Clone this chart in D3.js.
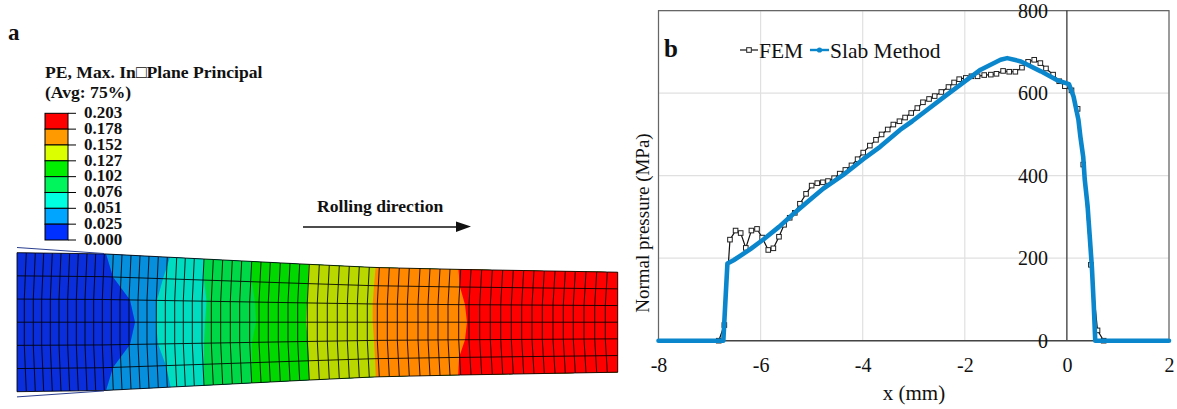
<!DOCTYPE html>
<html>
<head>
<meta charset="utf-8">
<script src="https://cdn.jsdelivr.net/npm/d3@7"></script>
<style>
  body { margin: 0; background: #fff; }
  svg { display: block; }
  text { font-family: "Liberation Serif", serif; fill: #111; }
</style>
</head>
<body>
<svg width="1177" height="409"></svg>
<script>
// panel a: contour legend
var legendLabels = ["0.203","0.178","0.152","0.127","0.102","0.076","0.051","0.025","0.000"];
var legendColors = ["#ff0000","#ff9a00","#dcff00","#00f000","#00f55c","#00ffe0","#00a5ff","#0030ff"];

// panel a: mesh, in model units (axial position, half thickness)
var meshColumns = [0,0.93,1.83,2.67,3.53,4.4,5.27,6.13,7,7.87,8.73,9.63,10.5,11.4,12.3,13.2,14.13,15.03,15.97,16.83,17.73,18.7,19.63,20.57,21.53,22.47,23.47,24.4,25.33,26.33,27.3,28.27,29.23,30.23,31.23,32.23,33.23,34.23,35.23,36.23,37.23,38.23,39.23,40.3,41.3,42.3,43.3,44.37,45.4,46.47,47.53,48.57,49.63,50.67,51.7,52.73,53.8,54.83,55.83,56.9,57.97,59.03,60.07];
var thicknessNodes = [1,0.667,0.333,0,-0.333,-0.667,-1];
var columnBow = [0,-0.1,-0.2,-0.2,-0.2,-0.1,0];
var profileStations = [0,8.7,28.3,35.8,44.2,60.1];
var profileHalf = [6.95,6.83,5.83,5.47,5.28,5.0];
var rollStations = [0,8.7];
var rollHalf = [7.47,6.87];

// contour band colours on the strip and the edge of each band, per through-thickness node
var bandColors = ["#0a2edc","#058fdc","#00dcc0","#00d848","#00d800","#b8d800","#ff8800","#ff0000"];
var bandEdges = [
  [8.7,9.6,11.3,11.8,11.3,9.6,8.7],
  [15.5,14.6,14.0,13.9,14.1,14.9,15.5],
  [18.7,18.7,18.95,18.8,18.7,18.7,18.7],
  [23.5,23.5,23.8,23.9,23.5,23.5,23.5],
  [29.2,29.1,29.0,28.9,29.1,29.2,29.2],
  [35.9,35.7,35.57,35.57,35.7,35.8,35.9],
  [44.1,44.3,44.8,45.0,44.8,44.2,44.1]
];

// panel b: normal pressure
var femX = [-6.82,-6.71,-6.6,-6.49,-6.39,-6.29,-6.18,-6.07,-5.97,-5.85,-5.75,-5.64,-5.54,-5.43,-5.33,-5.23,-5.11,-5,-4.89,-4.78,-4.68,-4.56,-4.45,-4.34,-4.22,-4.1,-3.99,-3.86,-3.74,-3.63,-3.51,-3.4,-3.28,-3.17,-3.05,-2.93,-2.82,-2.7,-2.59,-2.46,-2.32,-2.21,-2.11,-1.98,-1.87,-1.75,-1.62,-1.49,-1.38,-1.25,-1.13,-1.01,-0.88,-0.76,-0.64,-0.52,-0.41,-0.27,-0.15,-0.04,0.09,0.21,0.32,0.47,0.6,0.72];
var femP = [0,38,245,267,261,225,267,271,250,220,224,252,281,298,310,332,356,376,382,384,387,394,405,414,425,440,456,473,487,500,512,524,532,541,552,564,578,586,593,603,615,626,634,637,641,641,644,645,647,654,652,652,662,676,681,673,660,645,629,617,607,562,427,184,25,0];
var slabX = [-8,-7.7,-7.4,-7.1,-6.9,-6.73,-6.68,-6.65,-6.53,-6.2,-5.94,-5.64,-5.36,-5.05,-4.77,-4.38,-3.99,-3.66,-3.27,-3.03,-2.34,-1.69,-1.3,-1.17,-0.9,-0.51,-0.18,0.04,0.13,0.225,0.265,0.32,0.35,0.405,0.445,0.49,0.525,0.555,0.7,0.9,1.1,1.3,1.5,1.7,2];
var slabP = [0,0,0,0,0,0,118,187,195,222,246,276,307,340,369,402,440,470,511,532,597,657,681,685,677,653,631,622,592,536,494,445,390,327,257,177,90,0,0,0,0,0,0,0,0];
var xTicks = [-8,-6,-4,-2,0,2];
var yTicks = [0,200,400,600,800];

var svg = d3.select("svg");

// ---- panel a ----
var panelA = svg.append("g");
var xMesh = d3.scaleLinear().domain([0,60.1]).range([17,618]);
var yMesh = d3.scaleLinear().domain([-7,7]).range([392.2,252.2]);
var halfAt = d3.scaleLinear().domain(profileStations).range(profileHalf);

var meshLine = d3.line()
  .x(function(d){return xMesh(d[0]);})
  .y(function(d){return yMesh(d[1]);});

var outline = meshColumns.map(function(c){return [c,halfAt(c)];})
  .concat(meshColumns.slice().reverse().map(function(c){return [c,-halfAt(c)];}));

svg.append("clipPath").attr("id","stripClip").append("path")
  .attr("d",meshLine(outline)+"Z");

var edgePoints = function(edge, reverse){
  var pts = edge.map(function(x,i){
    // overshoot the outer nodes, the clip trims them back to the outline
    var t = thicknessNodes[i]*(Math.abs(thicknessNodes[i])===1 ? 1.1 : 1);
    return [x,t*halfAt(x)];
  });
  return reverse ? pts.reverse() : pts;
};
var stripStart = thicknessNodes.map(function(){return 0;});
var stripEnd = thicknessNodes.map(function(){return 60.1;});
var allEdges = [stripStart].concat(bandEdges);

// each band runs on to the strip end and the next one paints over it, so no seams
panelA.append("g").attr("clip-path","url(#stripClip)")
  .selectAll("path").data(bandColors).enter().append("path")
  .attr("d",function(d,i){
    return meshLine(edgePoints(allEdges[i],false).concat(edgePoints(stripEnd,true)))+"Z";
  })
  .attr("fill",function(d){return d;});

// mesh, the free ends of the strip stay straight
var bowAt = function(k,n){
  return (k===0 || k===meshColumns.length-1) ? 0 : columnBow[n];
};
var rows = thicknessNodes.map(function(t,n){
  return meshColumns.map(function(c,k){return [c+bowAt(k,n),t*halfAt(c)];});
});
var cols = meshColumns.map(function(c,k){
  return thicknessNodes.map(function(t,n){return [c+bowAt(k,n),t*halfAt(c)];});
});
panelA.append("g").selectAll("path").data(rows.concat(cols)).enter().append("path")
  .attr("d",meshLine)
  .attr("fill","none")
  .attr("stroke","#000")
  .attr("stroke-opacity",0.85)
  .attr("stroke-width",1);

// thin contact lines at the entry
var rollAt = d3.scaleLinear().domain(rollStations).range(rollHalf);
[1,-1].forEach(function(s){
  panelA.append("path")
    .attr("d",meshLine(rollStations.map(function(c){return [c,s*rollAt(c)];})))
    .attr("stroke","#2a3f8f")
    .attr("stroke-width",1)
    .attr("fill","none");
});

// legend
var yLegend = d3.scaleLinear().domain([0,8]).range([113.3,240]);
panelA.append("g").selectAll("rect").data(legendColors).enter().append("rect")
  .attr("x",45).attr("width",23)
  .attr("y",function(d,i){return yLegend(i);})
  .attr("height",yLegend(1)-yLegend(0))
  .attr("fill",function(d){return d;})
  .attr("stroke","#000");
panelA.append("g").selectAll("line").data(legendLabels).enter().append("line")
  .attr("x1",68).attr("x2",76)
  .attr("y1",function(d,i){return yLegend(i);})
  .attr("y2",function(d,i){return yLegend(i);})
  .attr("stroke","#000");
panelA.append("g").selectAll("text").data(legendLabels).enter().append("text")
  .attr("x",84)
  .attr("y",function(d,i){return yLegend(i)+4.8;})
  .attr("font-size",17)
  .attr("font-weight","bold")
  .text(function(d){return d;});

var boldText = function(x,y,size,str){
  return svg.append("text").attr("x",x).attr("y",y)
    .attr("font-size",size).attr("font-weight","bold").text(str);
};
boldText(8,40,23,"a");
boldText(45,78,17.6,"PE, Max. In\u25A1Plane Principal");
boldText(45,98,17.6,"(Avg: 75%)");
boldText(317,212,17.6,"Rolling direction");

// arrow
svg.append("line")
  .attr("x1",303).attr("x2",458).attr("y1",227).attr("y2",227)
  .attr("stroke","#111").attr("stroke-width",1.3);
svg.append("path").attr("d","M456,221.5L471,226.5L456,232Z").attr("fill","#111");

// ---- panel b ----
var xScale = d3.scaleLinear().domain([-8,2]).range([658.5,1169]);
var yScale = d3.scaleLinear().domain([0,800]).range([340.7,10.7]);

var grid = svg.append("g").attr("stroke","#e0e0e0").attr("stroke-width",1.2);
grid.selectAll("line.gx").data(xTicks).enter().append("line")
  .attr("class","gx")
  .attr("x1",function(d){return xScale(d);}).attr("x2",function(d){return xScale(d);})
  .attr("y1",yScale(800)).attr("y2",yScale(0));
grid.selectAll("line.gy").data(yTicks).enter().append("line")
  .attr("class","gy")
  .attr("x1",xScale(-8)).attr("x2",xScale(2))
  .attr("y1",function(d){return yScale(d);}).attr("y2",function(d){return yScale(d);});

// frame
svg.append("path")
  .attr("d","M"+xScale(-8)+","+yScale(0)+"V"+yScale(800)+"H"+xScale(2)+"V"+yScale(0))
  .attr("fill","none").attr("stroke","#666").attr("stroke-width",1.2);
svg.append("line")
  .attr("x1",xScale(0)).attr("x2",xScale(0)).attr("y1",yScale(800)).attr("y2",yScale(0))
  .attr("stroke","#111").attr("stroke-width",1);
svg.append("line")
  .attr("x1",xScale(-8)).attr("x2",xScale(2)).attr("y1",yScale(0)).attr("y2",yScale(0))
  .attr("stroke","#444").attr("stroke-width",1.6);

var xAxis = svg.append("g")
  .attr("transform","translate(0,"+yScale(0)+")")
  .call(d3.axisBottom(xScale).tickValues(xTicks).tickSize(0).tickPadding(17).tickFormat(function(d){return String(d);}));
var yAxis = svg.append("g")
  .attr("transform","translate("+xScale(0)+",0)")
  .call(d3.axisLeft(yScale).tickValues(yTicks).tickSize(0).tickPadding(19));
[xAxis,yAxis].forEach(function(a){
  a.select(".domain").remove();
  a.attr("font-family",null).attr("font-size",null);
  a.selectAll("text").attr("font-size",20).attr("fill","#111");
});

var lineGen = d3.line()
  .x(function(d){return xScale(d[0]);})
  .y(function(d){return yScale(d[1]);});

var femData = d3.zip(femX,femP);
var slabData = d3.zip(slabX,slabP);

svg.append("path").datum(femData)
  .attr("d",lineGen).attr("fill","none").attr("stroke","#111").attr("stroke-width",1.2);
svg.append("g").selectAll("rect").data(femData).enter().append("rect")
  .attr("x",function(d){return xScale(d[0])-2.3;})
  .attr("y",function(d){return yScale(d[1])-2.3;})
  .attr("width",4.6).attr("height",4.6)
  .attr("fill","#fff").attr("stroke","#222").attr("stroke-width",1);

svg.append("path").datum(slabData)
  .attr("d",lineGen).attr("fill","none").attr("stroke","#0a86cc")
  .attr("stroke-width",4.6).attr("stroke-linejoin","round").attr("stroke-linecap","round");

// legend of panel b
svg.append("line").attr("x1",740).attr("x2",758).attr("y1",50).attr("y2",50)
  .attr("stroke","#111").attr("stroke-width",1.2);
svg.append("rect").attr("x",746.7).attr("y",47.7).attr("width",4.6).attr("height",4.6)
  .attr("fill","#fff").attr("stroke","#222").attr("stroke-width",1);
svg.append("line").attr("x1",810).attr("x2",829).attr("y1",50).attr("y2",50)
  .attr("stroke","#0a86cc").attr("stroke-width",2.4);
svg.append("circle").attr("cx",819.5).attr("cy",50).attr("r",2.6).attr("fill","#0a86cc");

var plainText = function(x,y,size,str){
  return svg.append("text").attr("x",x).attr("y",y).attr("font-size",size).text(str);
};
plainText(759,58,21.5,"FEM");
plainText(830,58,21.5,"Slab Method");
boldText(664,57,25,"b");
plainText(914,400,21,"x (mm)").attr("text-anchor","middle");
svg.append("text")
  .attr("transform","translate(649,223) rotate(-90)")
  .attr("text-anchor","middle")
  .attr("font-size",19)
  .text("Normal pressure (MPa)");
</script>
</body>
</html>
